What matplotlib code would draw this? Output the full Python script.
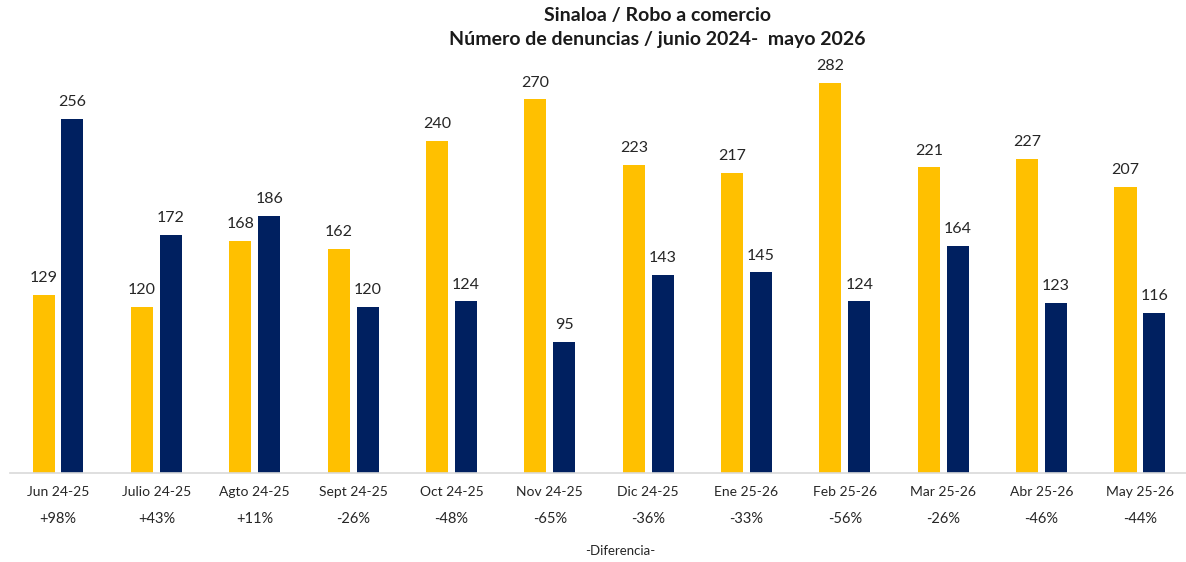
import matplotlib
matplotlib.use("Agg")
import matplotlib.pyplot as plt
import numpy as np

categories = ["Jun 24-25", "Julio 24-25", "Agto 24-25", "Sept 24-25", "Oct 24-25", "Nov 24-25",
              "Dic 24-25", "Ene 25-26", "Feb 25-26", "Mar 25-26", "Abr 25-26", "May 25-26"]
serie_2024_25 = [129, 120, 168, 162, 240, 270, 223, 217, 282, 221, 227, 207]
serie_2025_26 = [256, 172, 186, 120, 124, 95, 143, 145, 124, 164, 123, 116]
diferencias = ["+98%", "+43%", "+11%", "-26%", "-48%", "-65%", "-36%", "-33%", "-56%", "-26%", "-46%", "-44%"]

YELLOW = "#FFC000"
NAVY = "#002060"
FONT = ["Lato", "DejaVu Sans"]

W, H = 1186, 562
fig = plt.figure(figsize=(W / 100, H / 100), dpi=100)
left_px, right_px, base_px, top_px = 10, 1186, 473, 58
ax = fig.add_axes([left_px / W, (H - base_px) / H, (right_px - left_px) / W, (base_px - top_px) / H])

x = np.arange(len(categories))
off = 0.147
w = 0.224
b1 = ax.bar(x - off, serie_2024_25, width=w, color=YELLOW)
b2 = ax.bar(x + off, serie_2025_26, width=w, color=NAVY)

for bars, vals in ((b1, serie_2024_25), (b2, serie_2025_26)):
    for rect, v in zip(bars, vals):
        ax.annotate(str(v), (rect.get_x() + rect.get_width() / 2, v), xytext=(0, 7),
                    textcoords="offset points", ha="center", va="bottom",
                    fontsize=11.5, color="#262626", family=FONT)

ax.set_xlim(-0.488, 11.468)
ax.set_ylim(0, 300)
ax.set_yticks([])
ax.set_xticks(x)
ax.set_xticklabels(categories, fontsize=10, family=FONT, color="#262626")
ax.tick_params(axis="x", length=0, pad=9)
for s in ("top", "right", "left"):
    ax.spines[s].set_visible(False)
ax.spines["bottom"].set_color("#D9D9D9")
ax.spines["bottom"].set_linewidth(1.2)

for xi, d in zip(x, diferencias):
    ax.text(xi, -0.11, d, transform=ax.get_xaxis_transform(), ha="center", va="center",
            fontsize=10.5, family=FONT, color="#262626")

fig.text(620 / W, 1 - 551 / H, "-Diferencia-", ha="center", va="center", fontsize=9.5,
         family=FONT, color="#262626")
fig.text(658 / W, 1 - 15 / H, "Sinaloa / Robo a comercio", ha="center", va="center",
         fontsize=14, fontweight="bold", family=FONT, color="#1a1a1a")
fig.text(657 / W, 1 - 39 / H, "Número de denuncias / junio 2024-  mayo 2026", ha="center", va="center",
         fontsize=14, fontweight="bold", family=FONT, color="#1a1a1a")

fig.savefig("out.png", dpi=100)
